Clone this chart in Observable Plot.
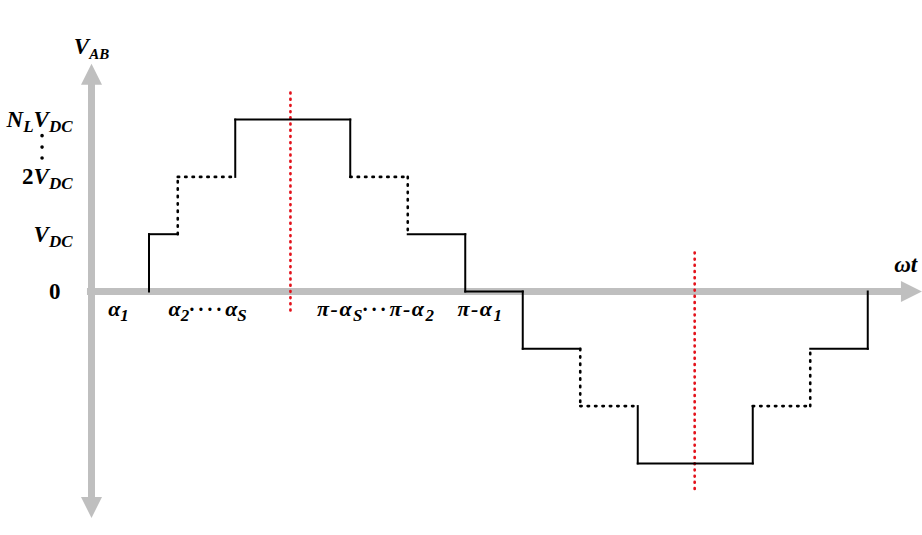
<!DOCTYPE html>
<html>
<head>
<meta charset="utf-8">
<script src="https://cdn.jsdelivr.net/npm/d3@7"></script>
<script src="https://cdn.jsdelivr.net/npm/@observablehq/plot@0.6"></script>
<style>
  html, body { margin: 0; padding: 0; background: #fff; }
  #chart svg { display: block; }
</style>
</head>
<body>
<div id="chart"></div>
<script>
// ---- data (ωt in step units, V_AB in multiples of V_DC) ----
const stepT = [1, 1, 1.5, 1.5, 2.5, 2.5, 4.5, 4.5, 5.5, 5.5, 6.5, 6.5, 7.5, 7.5, 8.5, 8.5, 9.5, 9.5, 11.5, 11.5, 12.5, 12.5, 13.5, 13.5];
const stepV = [0, 1, 1, 2, 2, 3, 3, 2, 2, 1, 1, 0, 0, -1, -1, -2, -2, -3, -3, -2, -2, -1, -1, 0];
// style of each segment between consecutive vertices: s = solid, d = dotted
const segStyle = ["s","s","d","d","s","s","s","d","d","s","s","s","s","s","d","d","s","s","s","d","d","s","s"];

const redX = [3.46, 10.49];
const redTop = [3.47, 0.68];
const redBottom = [-0.42, -3.51];

const axisX = [0];            // vertical axis position
const axisY = [0];            // horizontal axis position
const axisVExtent = [-3.65, 3.65];
const axisHExtent = [-0.07, 14.1];
const arrowX = [0, 14.26, 0];
const arrowY = [3.79, 0, -3.77];
const arrowRot = [0, 90, 180];

const yLabelText = ["N_{L}V_{DC}", "~{2}V_{DC}", "V_{DC}", "~{0}"];
const yLabelY = [3, 2, 1, 0];
const yLabelX = [-0.33, -0.33, -0.33, -0.54];
const vdotsY = [2.72, 2.52, 2.33];
const vdotsX = [-0.86, -0.86, -0.86];

const xLabelText = ["α_{1}", "α_{2}^{····}α_{S}", "π-α_{S}^{···}π-α_{2}", "π-α_{1}"];
const xLabelX = [0.47, 2.02, 4.94, 6.75];
const xLabelY = -0.31;

const axisTitleText = ["V_{AB}", "ωt"];
const axisTitleX = [0, 14.16];
const axisTitleY = [4.28, 0.47];

// ---- build tables ----
const segs = segStyle.map((s, i) => ({x1: stepT[i], y1: stepV[i], x2: stepT[i + 1], y2: stepV[i + 1], s}));
const reds = redX.map((x, i) => ({x, y1: redTop[i], y2: redBottom[i]}));
const arrows = arrowX.map((x, i) => ({x, y: arrowY[i], rotate: arrowRot[i]}));
const yLabels = yLabelText.map((t, i) => ({t, x: yLabelX[i], y: yLabelY[i]}));
const xLabels = xLabelText.map((t, i) => ({t, x: xLabelX[i], y: xLabelY}));
const titles = axisTitleText.map((t, i) => ({t, x: axisTitleX[i], y: axisTitleY[i]}));
const vdots = vdotsY.map((y, i) => ({x: vdotsX[i], y}));

const arrowSymbol = {
  draw(ctx, size) {
    const r = Math.sqrt(size / Math.PI);
    ctx.moveTo(0, -r);
    ctx.lineTo(r, r);
    ctx.lineTo(-r, r);
    ctx.closePath();
  }
};

const GRAY = "#bfbfbf";
const font = {fontFamily: "Liberation Serif, Times New Roman, serif", fontWeight: "bold", fontStyle: "italic", fill: "black"};

const plot = Plot.plot({
  width: 922,
  height: 535,
  marginTop: 0, marginRight: 0, marginBottom: 0, marginLeft: 0,
  x: {domain: [0, 14], range: [91, 896], axis: null},
  y: {domain: [-4, 4], range: [520.2, 61.8], axis: null},
  style: {background: "white", overflow: "visible"},
  marks: [
    Plot.ruleX(axisX, {x: d => d, y1: axisVExtent[0], y2: axisVExtent[1], stroke: GRAY, strokeWidth: 7}),
    Plot.ruleY(axisY, {y: d => d, x1: axisHExtent[0], x2: axisHExtent[1], stroke: GRAY, strokeWidth: 7}),
    Plot.dot(arrows, {x: "x", y: "y", rotate: "rotate", symbol: arrowSymbol, r: 10.5, fill: GRAY, stroke: "none"}),
    Plot.link(reds, {x1: "x", x2: "x", y1: "y1", y2: "y2", stroke: "#e3121b", strokeWidth: 2.7, strokeDasharray: "0.8,5.4", strokeLinecap: "round"}),
    Plot.link(segs.filter(d => d.s === "s"), {x1: "x1", y1: "y1", x2: "x2", y2: "y2", stroke: "black", strokeWidth: 2, strokeLinecap: "square"}),
    Plot.link(segs.filter(d => d.s === "d"), {x1: "x1", y1: "y1", x2: "x2", y2: "y2", stroke: "black", strokeWidth: 2.6, strokeDasharray: "1.4,6", strokeLinecap: "round"}),
    Plot.dot(vdots, {x: "x", y: "y", r: 1.8, fill: "black", stroke: "none"}),
    Plot.text(yLabels, {x: "x", y: "y", text: "t", textAnchor: "end", fontSize: 23, ...font}),
    Plot.text(xLabels, {x: "x", y: "y", text: "t", textAnchor: "middle", fontSize: 22, ...font}),
    Plot.text(titles, {x: "x", y: "y", text: "t", textAnchor: "middle", fontSize: 23, ...font})
  ]
});

// rich text: _{..} subscript, ~{..} upright, ^{..} widely spaced dots
const svgNS = "http://www.w3.org/2000/svg";
d3.select(plot).selectAll("text").each(function () {
  const s = this.textContent;
  const re = /([_~^])\{([^}]*)\}|([^_~^]+)/g;
  const parts = [];
  let m;
  while ((m = re.exec(s))) {
    if (m[3]) parts.push({t: m[3], k: "n"});
    else parts.push({t: m[2], k: m[1] === "_" ? "sub" : m[1] === "~" ? "rom" : "dots"});
  }
  this.textContent = "";
  let cur = 0;
  const isTitle = s === "V_{AB}";
  const isPi = s.startsWith("π");
  const subSize = isTitle ? 15 : 17;
  const subShift = 5;
  for (const p of parts) {
    const ts = document.createElementNS(svgNS, "tspan");
    ts.textContent = p.t;
    const target = p.k === "sub" ? subShift : 0;
    if (target !== cur) ts.setAttribute("dy", target - cur);
    cur = target;
    if (p.k === "sub") ts.setAttribute("font-size", subSize);
    if (p.k === "rom") ts.setAttribute("font-style", "normal");
    if (p.k === "dots") { ts.setAttribute("letter-spacing", 4); ts.setAttribute("font-size", 20); }
    if (p.k === "n" && isPi) ts.setAttribute("letter-spacing", 1.5);
    this.appendChild(ts);
  }
});

document.getElementById("chart").appendChild(plot);
</script>
</body>
</html>
